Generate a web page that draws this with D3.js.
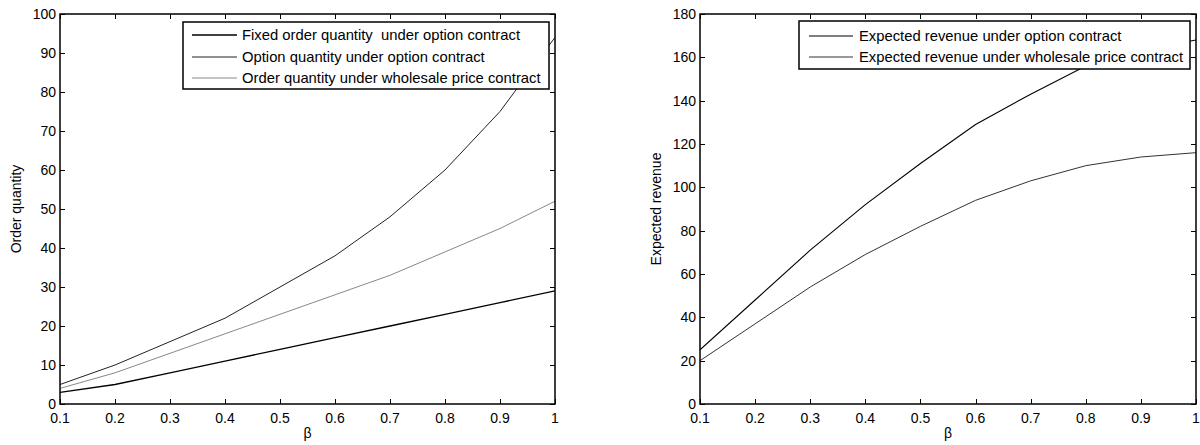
<!DOCTYPE html>
<html><head><meta charset="utf-8">
<script src="https://cdn.jsdelivr.net/npm/d3@7"></script>
<style>
body{margin:0;background:#fff;}
svg{display:block;font-family:"Liberation Sans",Arial,sans-serif;}
</style></head>
<body><svg id="c" width="1200" height="445"></svg>
<script>
const beta = [0.1,0.2,0.3,0.4,0.5,0.6,0.7,0.8,0.9,1.0];
const xTicks = [0.1,0.2,0.3,0.4,0.5,0.6,0.7,0.8,0.9,1];
// Left panel
const fixedOrderOption = [3,5,8,11,14,17,20,23,26,29];
const optionQuantity = [5,10,16,22,30,38,48,60,75,94];
const orderWholesale = [4,8,13,18,23,28,33,39,45,52];
const leftYTicks = [0,10,20,30,40,50,60,70,80,90,100];
const leftNames = ["Fixed order quantity  under option contract","Option quantity under option contract","Order quantity under wholesale price contract"];
// Right panel
const revenueOption = [25,48,71,92,111,129,143,156,163,168];
const revenueWholesale = [20,37,54,69,82,94,103,110,114,116];
const rightYTicks = [0,20,40,60,80,100,120,140,160,180];
const rightNames = ["Expected revenue under option contract","Expected revenue under wholesale price contract"];

const svg = d3.select("#c");

function panel(o){
  const g = svg.append("g");
  const x = d3.scaleLinear().domain([0.1,1]).range([o.x0,o.x1]);
  const y = d3.scaleLinear().domain(o.ydom).range([o.y1,o.y0]);
  const line = d3.line().x((d,i)=>x(beta[i])).y(d=>y(d));
  const cid = "clip"+o.id;
  svg.append("clipPath").attr("id",cid).append("rect")
    .attr("x",o.x0).attr("y",o.y0).attr("width",o.x1-o.x0).attr("height",o.y1-o.y0);
  o.series.forEach(s=>{
    g.append("path").attr("d",line(s.data)).attr("fill","none")
      .attr("stroke",s.color).attr("stroke-width",s.w).attr("clip-path",`url(#${cid})`);
  });
  g.append("rect").attr("x",o.x0).attr("y",o.y0).attr("width",o.x1-o.x0).attr("height",o.y1-o.y0)
    .attr("fill","none").attr("stroke","#000").attr("stroke-width",1.5);
  const tl=5;
  xTicks.forEach(t=>{
    const xx=Math.round(x(t))+0.5;
    g.append("line").attr("x1",xx).attr("x2",xx).attr("y1",o.y1).attr("y2",o.y1-tl).attr("stroke","#000");
    g.append("line").attr("x1",xx).attr("x2",xx).attr("y1",o.y0).attr("y2",o.y0+tl).attr("stroke","#000");
    g.append("text").attr("x",x(t)).attr("y",o.y1+19).attr("text-anchor","middle")
      .attr("font-size",14).attr("fill","#000").text(d3.format("~g")(t));
  });
  o.yticks.forEach(t=>{
    const yy=Math.round(y(t))+0.5;
    g.append("line").attr("x1",o.x0).attr("x2",o.x0+tl).attr("y1",yy).attr("y2",yy).attr("stroke","#000");
    g.append("line").attr("x1",o.x1).attr("x2",o.x1-tl).attr("y1",yy).attr("y2",yy).attr("stroke","#000");
    g.append("text").attr("x",o.x0-4).attr("y",y(t)+5).attr("text-anchor","end")
      .attr("font-size",14).attr("fill","#000").text(t);
  });
  g.append("text").attr("x",(o.x0+o.x1)/2).attr("y",438).attr("text-anchor","middle")
    .attr("font-size",14).text("β");
  g.append("text").attr("transform",`translate(${o.ylabX},${(o.y0+o.y1)/2}) rotate(-90)`)
    .attr("text-anchor","middle").attr("font-size",14).text(o.ylab);
  const L=o.legend;
  g.append("rect").attr("x",L.x).attr("y",L.y).attr("width",L.w).attr("height",L.h)
    .attr("fill","#fff").attr("stroke","#000").attr("stroke-width",1.5);
  o.series.forEach((s,i)=>{
    const yy=L.rows[i];
    g.append("line").attr("x1",L.lx0).attr("x2",L.lx1).attr("y1",yy).attr("y2",yy)
      .attr("stroke",s.color).attr("stroke-width",s.w);
    g.append("text").attr("x",L.tx).attr("y",yy+5).attr("font-size",14.8).attr("fill","#000")
      .attr("xml:space","preserve").style("white-space","pre").text(o.names[i]);
  });
}

panel({id:1,x0:60,x1:555,y0:14,y1:404,ydom:[0,100],yticks:leftYTicks,ylab:"Order quantity",ylabX:21,
  names:leftNames,
  series:[{data:fixedOrderOption,color:"#000",w:1.3},{data:optionQuantity,color:"#222",w:1},{data:orderWholesale,color:"#888",w:1}],
  legend:{x:183,y:22,w:366,h:67,rows:[35,57,78],lx0:192,lx1:237,tx:242}});

panel({id:2,x0:700,x1:1196,y0:14,y1:404,ydom:[0,180],yticks:rightYTicks,ylab:"Expected revenue",ylabX:661,
  names:rightNames,
  series:[{data:revenueOption,color:"#000",w:1.1},{data:revenueWholesale,color:"#333",w:1}],
  legend:{x:799,y:21,w:391,h:48,rows:[36,57],lx0:809,lx1:853,tx:859}});
</script></body></html>
